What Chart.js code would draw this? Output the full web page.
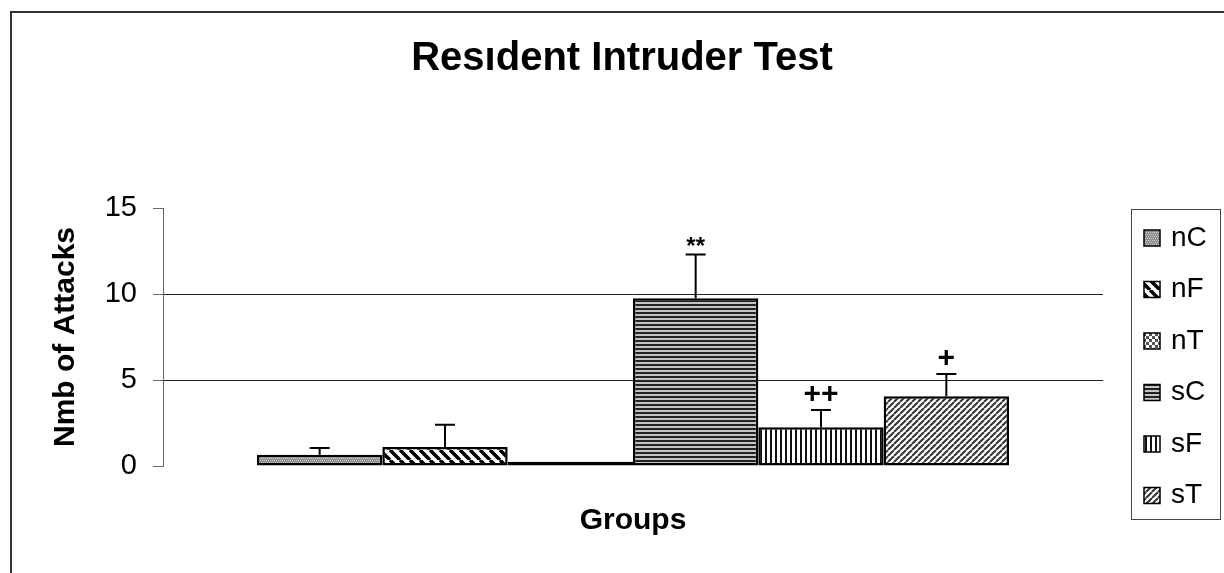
<!DOCTYPE html>
<html lang="en">
<head>
  <meta charset="UTF-8">
  <title>Resident Intruder Test</title>
  <script src="https://cdn.jsdelivr.net/npm/chart.js"></script>
  <style>
    html, body { margin: 0; padding: 0; background: #fff; }
    .chart-box { position: relative; width: 1224px; height: 573px; }
  </style>
</head>
<body>
  <div class="chart-box"><canvas id="ritChart"></canvas></div>

  <script>
    // values
    const groups = ['nC', 'nF', 'nT', 'sC', 'sF', 'sT'];
    const attacks = [0.65, 1.1, 0.25, 9.75, 2.25, 4.05];
    const errors = [0.4, 1.3, 0, 2.55, 1.0, 1.3];
    const marks = ['', '', '', '**', '++', '+'];
    const yTicks = [0, 5, 10, 15];
    const fills = ['dots', 'back', 'check', 'hlines', 'vlines', 'fwd'];

    const FONT = "'Liberation Sans', Arial, sans-serif";

    // hatch fills like the old office chart
    function makePattern(kind) {
      const c = document.createElement('canvas');
      const g = c.getContext('2d');
      let s = 8;
      if (kind === 'dots') {
        s = 4; c.width = c.height = s;
        g.fillStyle = '#8c8c8c'; g.fillRect(0, 0, s, s);
        g.fillStyle = '#d0d0d0';
        g.fillRect(0, 0, 1, 1); g.fillRect(2, 0, 1, 1);
        g.fillRect(1, 2, 1, 1); g.fillRect(3, 2, 1, 1);
      } else if (kind === 'check') {
        s = 6; c.width = c.height = s;
        g.fillStyle = '#fff'; g.fillRect(0, 0, s, s);
        g.fillStyle = '#555';
        g.fillRect(0, 0, 3, 3); g.fillRect(3, 3, 3, 3);
      } else if (kind === 'hlines') {
        s = 4; c.width = c.height = s;
        g.fillStyle = '#c4c4c4'; g.fillRect(0, 0, s, s);
        g.fillStyle = '#222'; g.fillRect(0, 0, s, 2);
      } else if (kind === 'vlines') {
        s = 5; c.width = c.height = s;
        g.fillStyle = '#fff'; g.fillRect(0, 0, s, s);
        g.fillStyle = '#111'; g.fillRect(0, 0, 2, s);
      } else if (kind === 'back' || kind === 'fwd') {
        s = kind === 'back' ? 10 : 6;
        c.width = c.height = s;
        g.fillStyle = '#fff'; g.fillRect(0, 0, s, s);
        g.strokeStyle = kind === 'back' ? '#000' : '#333';
        g.lineWidth = kind === 'back' ? 3.5 : 2;
        for (let x = -s; x <= s; x += s) {
          g.beginPath();
          if (kind === 'back') { g.moveTo(x, 0); g.lineTo(x + s, s); }
          else { g.moveTo(x, s); g.lineTo(x + s, 0); }
          g.stroke();
        }
      }
      return g.createPattern(c, 'repeat');
    }

    const patterns = fills.map(makePattern);

    const datasets = groups.map((name, i) => ({
      label: name,
      data: [attacks[i]],
      backgroundColor: patterns[i],
      borderColor: '#000',
      borderWidth: 2.5,
      borderSkipped: false,
      categoryPercentage: 0.8,
      barPercentage: 1.0
    }));

    // outer frame (left + top edges only are visible)
    const framePlugin = {
      id: 'frame',
      beforeDraw(chart) {
        const ctx = chart.ctx;
        ctx.save();
        ctx.strokeStyle = '#333';
        ctx.lineWidth = 2;
        ctx.beginPath();
        ctx.moveTo(11, chart.height);
        ctx.lineTo(11, 12);
        ctx.lineTo(chart.width, 12);
        ctx.stroke();
        ctx.restore();
      }
    };

    // upward error bars and significance marks
    const errorPlugin = {
      id: 'errorBars',
      afterDatasetsDraw(chart) {
        const ctx = chart.ctx;
        const yScale = chart.scales.y;
        ctx.save();
        ctx.strokeStyle = '#000';
        ctx.fillStyle = '#000';
        ctx.lineWidth = 2;
        chart.data.datasets.forEach((ds, i) => {
          const bar = chart.getDatasetMeta(i).data[0];
          if (!bar) return;
          const capY = yScale.getPixelForValue(attacks[i] + errors[i]);
          if (errors[i] > 0) {
            ctx.beginPath();
            ctx.moveTo(bar.x, bar.y);
            ctx.lineTo(bar.x, capY);
            ctx.moveTo(bar.x - 10, capY);
            ctx.lineTo(bar.x + 10, capY);
            ctx.stroke();
          }
          if (marks[i]) {
            const star = marks[i].includes('*');
            ctx.font = 'bold ' + (star ? 24 : 30) + 'px ' + FONT;
            ctx.textAlign = 'center';
            ctx.textBaseline = 'alphabetic';
            ctx.fillText(marks[i], bar.x, capY - (star ? 0 : 7));
          }
        });
        ctx.restore();
      }
    };

    // boxed legend on the right
    const legendPlugin = {
      id: 'boxLegend',
      afterDraw(chart) {
        const ctx = chart.ctx;
        const left = 1131, top = 209, w = 89, h = 310;
        ctx.save();
        ctx.strokeStyle = '#444';
        ctx.lineWidth = 1;
        ctx.strokeRect(left + 0.5, top + 0.5, w, h);
        ctx.font = '28px ' + FONT;
        ctx.textBaseline = 'middle';
        ctx.textAlign = 'left';
        chart.data.datasets.forEach((ds, i) => {
          const cy = top + 29 + i * 51.5;
          ctx.fillStyle = ds.backgroundColor;
          ctx.fillRect(left + 13, cy - 8, 16, 16);
          ctx.strokeStyle = '#000';
          ctx.lineWidth = 1.5;
          ctx.strokeRect(left + 13, cy - 8, 16, 16);
          ctx.fillStyle = '#000';
          ctx.fillText(ds.label, left + 40, cy);
        });
        ctx.restore();
      }
    };

    new Chart(document.getElementById('ritChart'), {
      type: 'bar',
      data: { labels: [''], datasets: datasets },
      plugins: [framePlugin, errorPlugin, legendPlugin],
      options: {
        responsive: true,
        maintainAspectRatio: false,
        animation: false,
        layout: { padding: { top: 15, left: 20, right: 0, bottom: 0 } },
        plugins: {
          legend: { display: false },
          tooltip: { enabled: false },
          title: {
            display: true,
            text: 'Resıdent Intruder Test',
            color: '#000',
            font: { family: FONT, size: 40, weight: 'bold' },
            padding: { top: 20, bottom: 125 }
          }
        },
        scales: {
          x: {
            grid: { display: false },
            border: { display: false },
            ticks: { display: false },
            title: {
              display: true,
              text: 'Groups',
              color: '#000',
              font: { family: FONT, size: 30, weight: 'bold' },
              padding: { top: 0, bottom: 34 }
            },
            afterFit: s => { s.height = 107; }
          },
          y: {
            min: 0,
            max: 15,
            afterBuildTicks: s => { s.ticks = yTicks.map(v => ({ value: v })); },
            ticks: { color: '#000', font: { family: FONT, size: 29 }, padding: 16 },
            grid: {
              color: c => (c.tick && (c.tick.value === 5 || c.tick.value === 10)) ? '#222' : 'rgba(0,0,0,0)',
              tickColor: '#666',
              tickLength: 10,
              lineWidth: 1
            },
            border: { display: true, color: '#666', width: 1 },
            title: {
              display: true,
              text: 'Nmb of Attacks',
              color: '#000',
              font: { family: FONT, size: 30, weight: 'bold' },
              padding: { top: 28, bottom: 0 }
            },
            afterFit: s => { s.width = 143; }
          },
          // empty strip on the right that leaves room for the boxed legend
          legendSpace: {
            position: 'right',
            grid: { display: false },
            border: { display: false },
            ticks: { display: false },
            afterFit: s => { s.width = 121; }
          }
        }
      }
    });
  </script>
</body>
</html>
